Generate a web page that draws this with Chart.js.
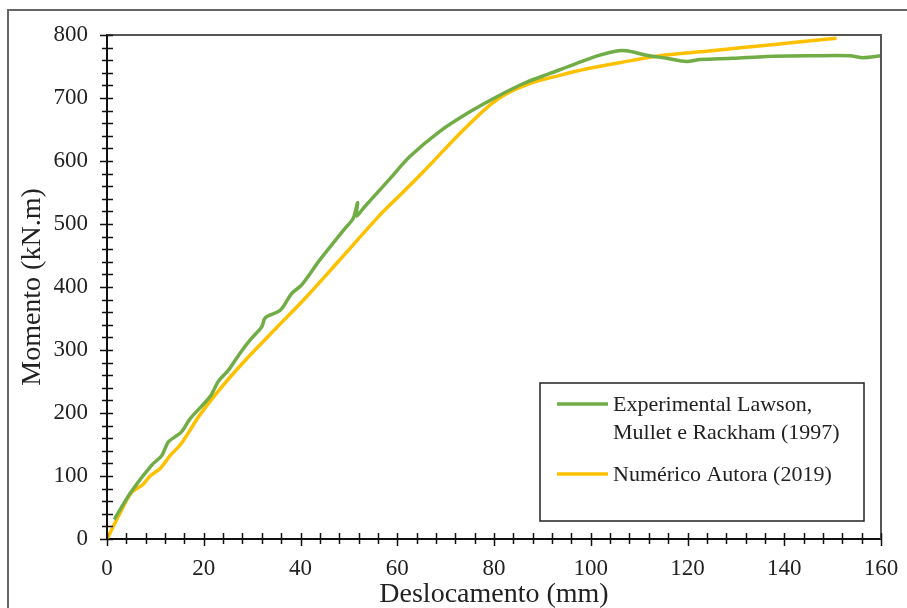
<!DOCTYPE html>
<html>
<head>
<meta charset="utf-8">
<script src="https://cdn.jsdelivr.net/npm/chart.js@4.4.0/dist/chart.umd.min.js"></script>
<style>
  html, body { margin: 0; padding: 0; background: #fff; }
  #wrap { width: 907px; height: 608px; }
</style>
</head>
<body>
<div id="wrap"><canvas id="chart" width="907" height="608"></canvas></div>
<script>
// experimental curve (Lawson, Mullet e Rackham 1997)
const expX = [1.5, 5, 9.2, 11.3, 12.7, 15.4, 17.2, 21.3, 23, 25.1, 27.5, 29.6, 32, 32.7, 35.8, 38.2, 40.2, 44, 49.2, 50.9, 51.8, 51.6, 53, 55.8, 58.5, 62.6, 68.8, 75, 80.6, 86.1, 91.6, 97.1, 101.9, 105.7, 107.4, 111.6, 115.7, 119.8, 122.6, 129.5, 136.4, 146, 153.6, 156.3, 160];
const expY = [31, 75, 117, 132, 154, 170, 191, 226, 250, 268, 295, 316, 337, 351, 363, 390, 403, 443, 493, 509, 534, 513, 525, 549, 572, 607, 647, 678, 702, 723, 739, 755, 768, 775, 775, 768, 763, 758, 761, 763, 766, 767, 767, 764, 767];

// numerical curve (Autora 2019)
const numX = [0, 2.5, 5, 7.5, 8.9, 11, 13, 15.4, 19.2, 24, 29.6, 35, 41.3, 48, 56.4, 60.6, 65.4, 73, 79.2, 82.6, 87.4, 93.6, 99, 106, 114.3, 125, 138, 150.8];
const numY = [0, 38, 73, 87, 100, 112, 132, 152, 197, 244, 292, 335, 385, 442, 514, 546, 583, 644, 689, 707, 723, 736, 746, 756, 767, 775, 785, 795];

const seriesLabels = [['Experimental Lawson,', 'Mullet e Rackham (1997)'], ['Numérico Autora (2019)']];
const xTitle = 'Deslocamento (mm)';
const yTitle = 'Momento (kN.m)';

const GREEN = '#70AD47';
const YELLOW = '#FFC000';
const FONT = 'Liberation Serif';

function toPoints(xs, ys) {
    return xs.map((x, i) => ({ x: x, y: ys[i] }));
}

// outer frame, plot box, crossing ticks and legend
const decoPlugin = {
    id: 'deco',
    beforeDraw(chart) {
        const ctx = chart.ctx;
        ctx.save();
        ctx.fillStyle = '#fff';
        ctx.fillRect(0, 0, chart.width, chart.height);
        ctx.strokeStyle = '#666';
        ctx.lineWidth = 2;
        ctx.strokeRect(8, 10, 1000, 1000);
        ctx.restore();
    },
    afterDraw(chart) {
        const ctx = chart.ctx;
        const a = chart.chartArea;
        const xs = chart.scales.x;
        const ys = chart.scales.y;
        ctx.save();

        // top and right side of the plot box
        ctx.strokeStyle = '#555';
        ctx.lineWidth = 2;
        ctx.beginPath();
        ctx.moveTo(a.left, a.top);
        ctx.lineTo(a.right, a.top);
        ctx.lineTo(a.right, a.bottom);
        ctx.stroke();

        // ticks
        ctx.strokeStyle = '#111';
        ctx.lineWidth = 1.5;
        ctx.beginPath();
        for (let v = 0; v <= 160; v += 4) {
            const px = Math.round(xs.getPixelForValue(v)) + 0.5;
            const major = v % 20 === 0;
            ctx.moveTo(px, a.bottom - 6);
            ctx.lineTo(px, a.bottom + (major ? 7 : 5));
        }
        for (let v = 0; v <= 800; v += 20) {
            const py = Math.round(ys.getPixelForValue(v)) + 0.5;
            const major = v % 100 === 0;
            ctx.moveTo(a.left - (major ? 7 : 5), py);
            ctx.lineTo(a.left + 6, py);
        }
        ctx.stroke();

        // legend box
        const bx = 540, by = 383, bw = 324, bh = 138;
        ctx.fillStyle = '#fff';
        ctx.fillRect(bx, by, bw, bh);
        ctx.strokeStyle = '#222';
        ctx.lineWidth = 1.5;
        ctx.strokeRect(bx, by, bw, bh);

        ctx.font = '22px "' + FONT + '"';
        ctx.fillStyle = '#222';
        ctx.textBaseline = 'middle';
        ctx.textAlign = 'left';
        const rows = [{ y: 404, color: GREEN }, { y: 474, color: YELLOW }];
        chart.data.datasets.forEach((ds, i) => {
            ctx.strokeStyle = rows[i].color;
            ctx.lineWidth = 3.5;
            ctx.beginPath();
            ctx.moveTo(557, rows[i].y);
            ctx.lineTo(608, rows[i].y);
            ctx.stroke();
            ds.label.forEach((line, j) => {
                ctx.fillText(line, 613, rows[i].y + 1 + j * 28);
            });
        });
        ctx.restore();
    }
};

new Chart(document.getElementById('chart'), {
    type: 'scatter',
    data: {
        datasets: [
            {
                label: seriesLabels[0],
                data: toPoints(expX, expY),
                showLine: true,
                borderColor: GREEN,
                borderWidth: 3.5,
                pointRadius: 0,
                tension: 0.3
            },
            {
                label: seriesLabels[1],
                data: toPoints(numX, numY),
                showLine: true,
                borderColor: YELLOW,
                borderWidth: 3.5,
                pointRadius: 0,
                tension: 0.3
            }
        ]
    },
    options: {
        responsive: false,
        animation: false,
        layout: { padding: { left: 0, top: 35, right: 26, bottom: 0 } },
        plugins: {
            legend: { display: false },
            tooltip: { enabled: false }
        },
        scales: {
            x: {
                type: 'linear',
                min: 0,
                max: 160,
                ticks: { stepSize: 20, color: '#222', padding: 8, font: { family: FONT, size: 23 }, maxRotation: 0 },
                grid: { display: false },
                border: { display: true, color: '#111', width: 2 },
                title: { display: true, text: xTitle, color: '#222', padding: { top: 0, bottom: -3 }, font: { family: FONT, size: 28 } },
                afterFit(scale) {
                    scale.height = 69;
                    scale.paddingLeft = 0;
                    scale.paddingRight = 0;
                }
            },
            y: {
                type: 'linear',
                min: 0,
                max: 800,
                ticks: { stepSize: 100, color: '#222', padding: 11, font: { family: FONT, size: 23 } },
                grid: { display: false },
                border: { display: true, color: '#111', width: 2 },
                title: { display: true, text: yTitle, color: '#222', padding: { top: 16, bottom: 0 }, font: { family: FONT, size: 28 } },
                afterFit(scale) {
                    scale.width = 107;
                    scale.paddingTop = 0;
                    scale.paddingBottom = 0;
                }
            }
        }
    },
    plugins: [decoPlugin]
});
</script>
</body>
</html>
